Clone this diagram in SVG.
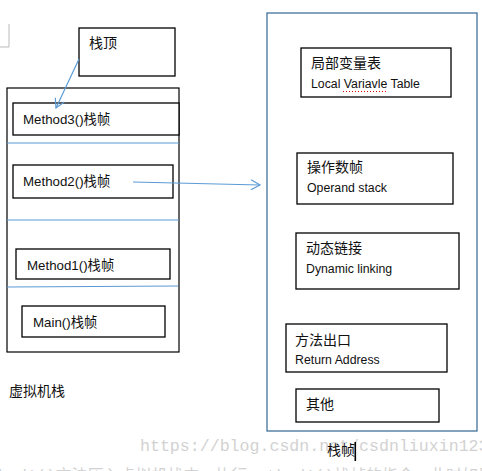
<svg xmlns="http://www.w3.org/2000/svg" width="482" height="471" viewBox="0 0 482 471">
<style>
.box{fill:#fff;stroke:#000;stroke-width:1.3}
.t{font-family:"Liberation Sans","Noto Sans CJK SC",sans-serif;fill:#111}
.m{font-size:13.3px}
.c{font-size:14px}
.e{font-size:12.3px}
.blue{stroke:#5b9bd5;stroke-width:1.2;fill:none}
.wm{font-family:"Liberation Mono","Noto Sans CJK SC",monospace;fill:#d2d2d2}
</style>
<defs>
<marker id="arr" markerWidth="12" markerHeight="12" refX="10" refY="6" orient="auto" markerUnits="userSpaceOnUse">
<path d="M1,1 L10,6 L1,11" fill="none" stroke="#5b9bd5" stroke-width="1.2"/>
</marker>
</defs>
<rect width="482" height="471" fill="#fff"/>
<path d="M9,24 V47 H0" fill="none" stroke="#bbb" stroke-width="1"/>

<g id="watermark">
<text class="wm" x="140" y="451" font-size="16.6">https://blog.csdn.net/csdnliuxin123</text>
<text class="wm" x="-2" y="481" font-size="16">hod1()方法压入虚拟机栈中，执行method1()栈帧的指令，此时如果接着</text>
</g>

<g id="stack">
<rect x="7" y="88" width="172" height="264" fill="none" stroke="#000" stroke-width="1.2"/>
</g>
<g id="stacktop">
<rect class="box" x="79" y="28" width="96" height="48"/>
<text class="t c" x="89" y="48">栈顶</text>
</g>
<g id="method3">
<rect class="box" x="13" y="103" width="166" height="32"/>
<text class="t m" x="23" y="124">Method3()栈帧</text>
</g>
<g id="method2">
<rect class="box" x="13" y="165" width="160" height="33"/>
<text class="t m" x="23" y="186">Method2()栈帧</text>
</g>
<g id="method1">
<rect class="box" x="16" y="249" width="154" height="30"/>
<text class="t m" x="27" y="270">Method1()栈帧</text>
</g>
<g id="main">
<rect class="box" x="22" y="306" width="143" height="31"/>
<text class="t m" x="33" y="327">Main()栈帧</text>
</g>
<g id="separators">
<line class="blue" x1="7" y1="143" x2="179" y2="143"/>
<line class="blue" x1="7" y1="220" x2="179" y2="220"/>
<line class="blue" x1="7" y1="287" x2="178" y2="286"/>
</g>
<g id="vmstack-label">
<text class="t c" x="9" y="396">虚拟机栈</text>
</g>

<g id="frame">
<rect x="267" y="13" width="210" height="418" fill="none" stroke="#41719c" stroke-width="1.3"/>
</g>
<g id="localvars">
<rect class="box" x="301" y="48" width="150" height="49"/>
<text class="t c" x="311" y="68">局部变量表</text>
<text class="t e" x="311" y="88">Local Variavle Table</text>
<line x1="343" y1="91.5" x2="388" y2="91.5" stroke="#d00" stroke-width="1" stroke-dasharray="1 2"/>
</g>
<g id="operand">
<rect class="box" x="297" y="153" width="156" height="51"/>
<text class="t c" x="307" y="172">操作数帧</text>
<text class="t e" x="307" y="192">Operand stack</text>
</g>
<g id="dynlink">
<rect class="box" x="296" y="233" width="163" height="56"/>
<text class="t c" x="306" y="253">动态链接</text>
<text class="t e" x="306" y="273">Dynamic linking</text>
</g>
<g id="retaddr">
<rect class="box" x="286" y="324" width="161" height="48"/>
<text class="t c" x="295" y="345">方法出口</text>
<text class="t e" x="295" y="364">Return Address</text>
</g>
<g id="other">
<rect class="box" x="296" y="389" width="143" height="33"/>
<text class="t c" x="306" y="409">其他</text>
</g>
<g id="frame-label">
<text class="t c" x="327" y="455">栈帧</text>
<rect x="354.5" y="442" width="1.6" height="19" fill="#000"/>
</g>

<g id="connectors">
<line class="blue" x1="79" y1="59" x2="56" y2="108" marker-end="url(#arr)"/>
<line class="blue" x1="133" y1="182" x2="260" y2="185" marker-end="url(#arr)"/>
</g>
</svg>
